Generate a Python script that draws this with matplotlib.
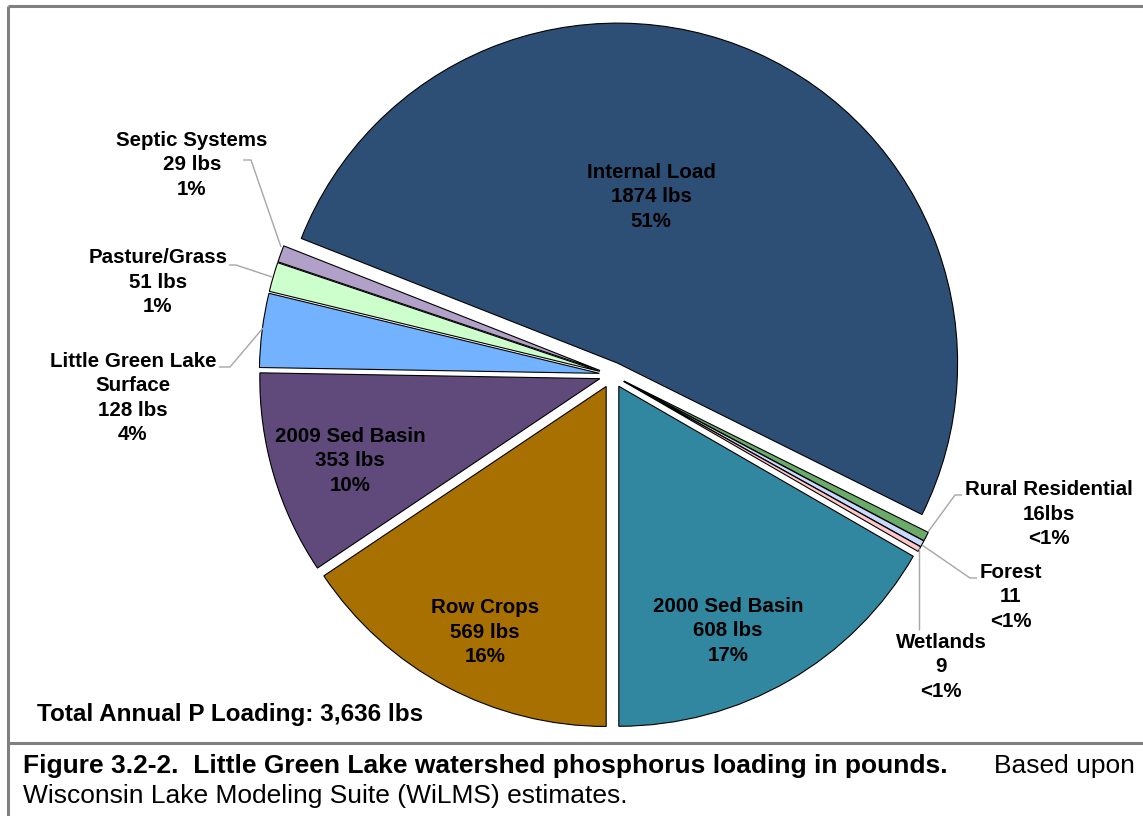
import matplotlib
matplotlib.use("Agg")
import matplotlib.pyplot as plt

# Phosphorus loading by source (lbs/yr), clockwise from Internal Load
sources = ["Internal Load", "Rural Residential", "Forest", "Wetlands",
           "2000 Sed Basin", "Row Crops", "2009 Sed Basin",
           "Little Green Lake\nSurface", "Pasture/Grass", "Septic Systems"]
loads = [1874, 16, 11, 9, 608, 569, 353, 128, 51, 29]
units = [" lbs", "lbs", "", "", " lbs", " lbs", " lbs", " lbs", " lbs", " lbs"]
colors = ["#2D4E75", "#6AAB6A", "#C8DAFF", "#FFC8C8", "#31879F",
          "#A87000", "#604A7B", "#72B2FF", "#CCFFCC", "#B1A0C8"]
total_reported = 3636

W, H = 1143, 816
fig = plt.figure(figsize=(W / 100, H / 100), dpi=100)
ax = fig.add_axes([0, 0, 1, 1])

def px(x, y):
    return x, H - y

# pie geometry in pixel units
cx, cy = px(612.3, 375.0)
R = 340.0
gap = 13.0  # explode offset, same units as radius

total = sum(loads)
cum_right = sum(loads[:5])
start = -90 + cum_right / total * 360.0

ax.pie(loads, colors=colors, startangle=start, counterclock=False,
       explode=[gap] * len(loads), radius=R, center=(cx, cy),
       wedgeprops=dict(edgecolor="black", linewidth=0.8))

ax.set_xlim(0, W)
ax.set_ylim(0, H)
ax.set_aspect("equal")
ax.set_axis_off()

FONT = ["Liberation Sans", "DejaVu Sans"]

def pct_text(v):
    p = v / total * 100
    return "<1%" if round(p) == 0 else f"{round(p):d}%"

def label(i, x, y, step=24.5, size=14.8):
    lines = sources[i].split("\n") + [f"{loads[i]}{units[i]}", pct_text(loads[i])]
    n = len(lines)
    for k, t in enumerate(lines):
        yy = y + (k - (n - 1) / 2) * step
        ax.text(*px(x, yy), t, ha="center", va="center", fontsize=size,
                fontweight="bold", family=FONT, color="black")

label(0, 651, 197)
label(1, 1049, 514)
label(2, 1011, 597)
label(3, 941, 667)
label(4, 728, 631)
label(5, 485, 632)
label(6, 350, 461)
label(7, 133, 398)
label(8, 158, 282)
label(9, 192, 165)

# leader lines
leaders = [
    [(281, 247), (251, 160), (243, 160)],
    [(272, 277), (236, 265), (229, 265)],
    [(263, 328), (230, 367), (219, 367)],
    [(928, 532), (955, 495), (962, 495)],
    [(922, 545), (970, 578), (977, 578)],
    [(919, 548), (919, 630)],
]
for pts in leaders:
    xs = [p[0] for p in pts]
    ys = [H - p[1] for p in pts]
    ax.plot(xs, ys, color="#A6A6A6", lw=1.0, solid_capstyle="butt")

ax.text(*px(37, 715), f"Total Annual P Loading: {total_reported:,} lbs",
        ha="left", va="center", fontsize=17.5, fontweight="bold", family=FONT)

# frame and caption separator
frame_kw = dict(color="#808080", lw=2.2, solid_capstyle="butt")
ax.plot([8, W], [H - 6, H - 6], **frame_kw)
ax.plot([8, 8], [H - 6, 0], **frame_kw)
ax.plot([8, W], [H - 743, H - 743], **frame_kw)

CAP = 19
ax.text(*px(23, 766), "Figure 3.2-2.  Little Green Lake watershed phosphorus loading in pounds.",
        ha="left", va="center", fontsize=CAP, fontweight="bold", family=FONT)
ax.text(*px(1135, 766), "Based upon", ha="right", va="center",
        fontsize=CAP, family=FONT)
ax.text(*px(23, 796), "Wisconsin Lake Modeling Suite (WiLMS) estimates.",
        ha="left", va="center", fontsize=CAP, family=FONT)

fig.savefig("out.png", dpi=100, facecolor="white")
